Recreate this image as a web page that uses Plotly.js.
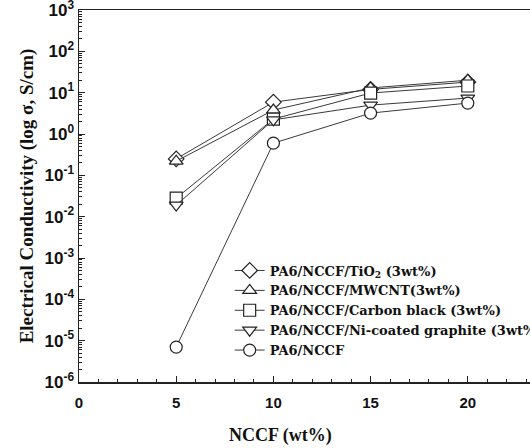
<!DOCTYPE html>
<html>
<head>
<meta charset="utf-8">
<script src="https://cdn.plot.ly/plotly-3.0.1.min.js"></script>
<style>html,body{margin:0;padding:0;overflow:hidden;background:#fff;}#chart{width:600px;height:448px;}</style>
</head>
<body>
<div id="chart"></div>
<script>
const xLoad = [5, 10, 15, 20];
const seriesNames = [
  "PA6/NCCF/TiO<sub>2</sub> (3wt%)",
  "PA6/NCCF/MWCNT(3wt%)",
  "PA6/NCCF/Carbon black (3wt%)",
  "PA6/NCCF/Ni-coated graphite (3wt%)",
  "PA6/NCCF"
];
const tio2 = [0.25, 5.9, 12, 18];
const mwcnt = [0.22, 3.8, 13, 20];
const carbonBlack = [0.028, 2.3, 9.8, 14.5];
const niGraphite = [0.019, 2.2, 5.0, 7.4];
const nccf = [7e-6, 0.6, 3.2, 5.6];
const symbols = ["diamond", "triangle-up", "square", "triangle-down", "circle"];
const allSeries = [tio2, mwcnt, carbonBlack, niGraphite, nccf];
const xTickVals = [0, 5, 10, 15, 20];
const yExponents = [-6, -5, -4, -3, -2, -1, 0, 1, 2, 3];
const yTickVals = yExponents.map(e => Math.pow(10, e));
const yTickText = yExponents.map(e => "10<sup>" + (e < 0 ? "-" + (-e) : e) + "</sup>");

const traces = allSeries.map((ys, i) => ({
  x: xLoad, y: ys, name: seriesNames[i], type: "scatter", mode: "lines+markers",
  line: {color: "#3a3a3a", width: 1},
  marker: {symbol: symbols[i], size: 12, color: "#ffffff", line: {color: "#222", width: 1.2}}
}));

const layout = {
  width: 600, height: 448,
  margin: {l: 79, r: 35, t: 10, b: 66},
  paper_bgcolor: "#fff", plot_bgcolor: "#fff",
  showlegend: true,
  legend: {x: 0.31, y: 0.34, xanchor: "left", yanchor: "top", bgcolor: "rgba(0,0,0,0)",
    font: {family: "DejaVu Serif", size: 13, color: "#111", weight: "bold"}},
  xaxis: {
    range: [0, 25], tickmode: "array", tickvals: xTickVals, ticks: "inside", ticklen: 6, tickcolor: "#222",
    ticklabelstandoff: 6,
    showline: true, linecolor: "#222", linewidth: 1.5, mirror: true, showgrid: false, zeroline: false,
    minor: {dtick: 1, tick0: 0, ticks: "inside", ticklen: 3, tickcolor: "#222", showgrid: false},
    tickfont: {family: "Liberation Sans", size: 15, color: "#111", weight: "bold"}
  },
  yaxis: {
    type: "log", range: [-6, 3], tickmode: "array", tickvals: yTickVals, ticktext: yTickText,
    ticklabeloverflow: "allow",
    ticks: "inside", ticklen: 6, tickcolor: "#222",
    showline: true, linecolor: "#222", linewidth: 1.5, mirror: true, showgrid: false, zeroline: false,
    minor: {dtick: "D1", ticks: "inside", ticklen: 3, tickcolor: "#222", showgrid: false},
    tickfont: {family: "Liberation Sans", size: 17, color: "#111", weight: "bold"},
    title: {text: "Electrical Conductivity (log σ, S/cm)", font: {family: "Liberation Serif", size: 19, color: "#111", weight: "bold"}, standoff: 6}
  },
  annotations: [{
    text: "NCCF (wt%)", xref: "paper", yref: "paper", x: (280 - 79) / 486, y: -(435 - 382) / 372,
    xanchor: "center", yanchor: "middle", showarrow: false,
    font: {family: "Liberation Serif", size: 18, color: "#111", weight: "bold"}
  }]
};
Plotly.newPlot("chart", traces, layout, {displayModeBar: false, staticPlot: true});
</script>
</body>
</html>
